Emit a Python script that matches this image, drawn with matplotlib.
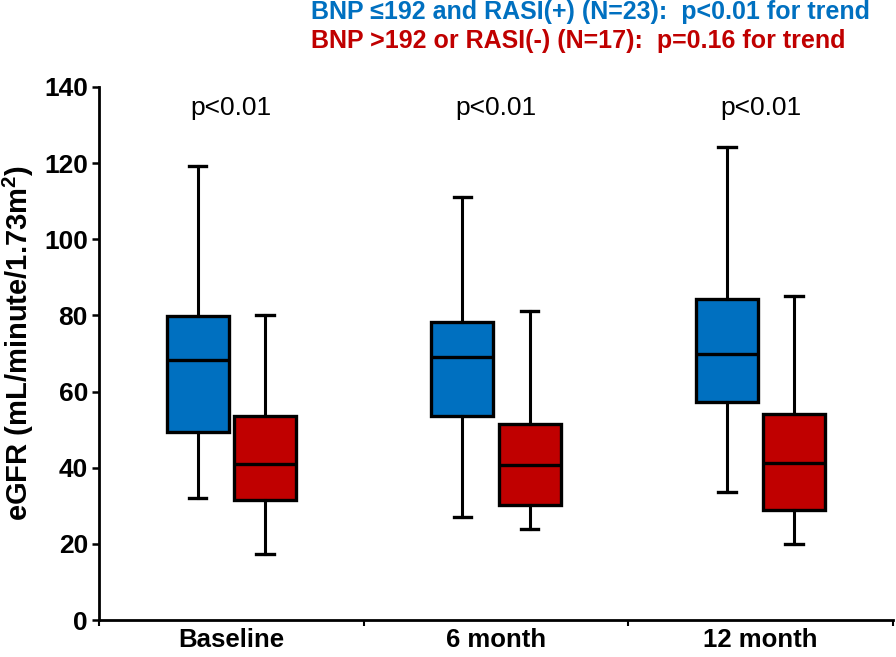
import matplotlib
matplotlib.use("Agg")
import matplotlib.pyplot as plt
from matplotlib.ticker import FixedLocator

plt.rcParams['font.family'] = ['Liberation Sans', 'DejaVu Sans']

# Data (eGFR, mL/minute/1.73m2)
groups = ['Baseline', '6 month', '12 month']
p_labels = ['p<0.01', 'p<0.01', 'p<0.01']

blue_whislo = [32.0, 27.0, 33.5]
blue_q1 = [49.3, 53.6, 57.2]
blue_med = [68.3, 69.2, 69.9]
blue_q3 = [79.9, 78.4, 84.2]
blue_whishi = [119.3, 111.2, 124.3]

red_whislo = [17.3, 23.9, 19.9]
red_q1 = [31.5, 30.2, 28.9]
red_med = [40.9, 40.7, 41.2]
red_q3 = [53.7, 51.4, 54.1]
red_whishi = [80.1, 81.2, 85.2]

blue = '#0070C0'
red = '#C00000'


def make_stats(lo, q1, med, q3, hi):
    return [dict(whislo=a, q1=b, med=c, q3=d, whishi=e, fliers=[])
            for a, b, c, d, e in zip(lo, q1, med, q3, hi)]


fig = plt.figure(figsize=(8.96, 6.57), dpi=100)
ax = fig.add_axes([0.1105, 0.0563, 0.886, 0.8113])

pos = [1, 2, 3]
off = 0.127
w = 0.234

for stats, shift, col in [
    (make_stats(blue_whislo, blue_q1, blue_med, blue_q3, blue_whishi), -off, blue),
    (make_stats(red_whislo, red_q1, red_med, red_q3, red_whishi), off, red),
]:
    ax.bxp(stats, positions=[p + shift for p in pos], widths=w,
           showfliers=False, patch_artist=True, capwidths=0.066,
           boxprops=dict(facecolor=col, edgecolor='black', linewidth=2.4),
           medianprops=dict(color='black', linewidth=2.4),
           whiskerprops=dict(color='black', linewidth=2.2),
           capprops=dict(color='black', linewidth=2.4))

for p, lab in zip(pos, p_labels):
    ax.text(p, 134.5, lab, ha='center', va='center', fontsize=19)

ax.set_xlim(0.5, 3.5)
ax.set_ylim(0, 140)
ax.set_yticks(range(0, 141, 20))
ax.set_xticks(pos)
ax.set_xticklabels(groups, fontsize=18.5, fontweight='bold')
ax.xaxis.set_minor_locator(FixedLocator([0.5, 1.5, 2.5, 3.5]))
ax.tick_params(axis='x', which='major', length=0, pad=6)
ax.tick_params(axis='x', which='minor', length=4, width=1.5, direction='out')
ax.tick_params(axis='y', length=5, width=1.8, direction='out', labelsize=19, pad=3)
for t in ax.get_yticklabels():
    t.set_fontweight('bold')

ax.set_ylabel('eGFR (mL/minute/1.73m$^{\\mathregular{2}}$)', fontsize=21,
              fontweight='bold')
ax.yaxis.set_label_coords(-0.079, 0.52)

for s in ['top', 'right']:
    ax.spines[s].set_visible(False)
for s in ['left', 'bottom']:
    ax.spines[s].set_linewidth(2)

fig.text(0.347, 0.981, 'BNP \u2264192 and RASI(+) (N=23):  p<0.01 for trend',
         color=blue, fontsize=18, fontweight='bold', va='center', ha='left')
fig.text(0.347, 0.938, 'BNP >192 or RASI(-) (N=17):  p=0.16 for trend',
         color=red, fontsize=18, fontweight='bold', va='center', ha='left')

fig.savefig('out.png', dpi=100)
